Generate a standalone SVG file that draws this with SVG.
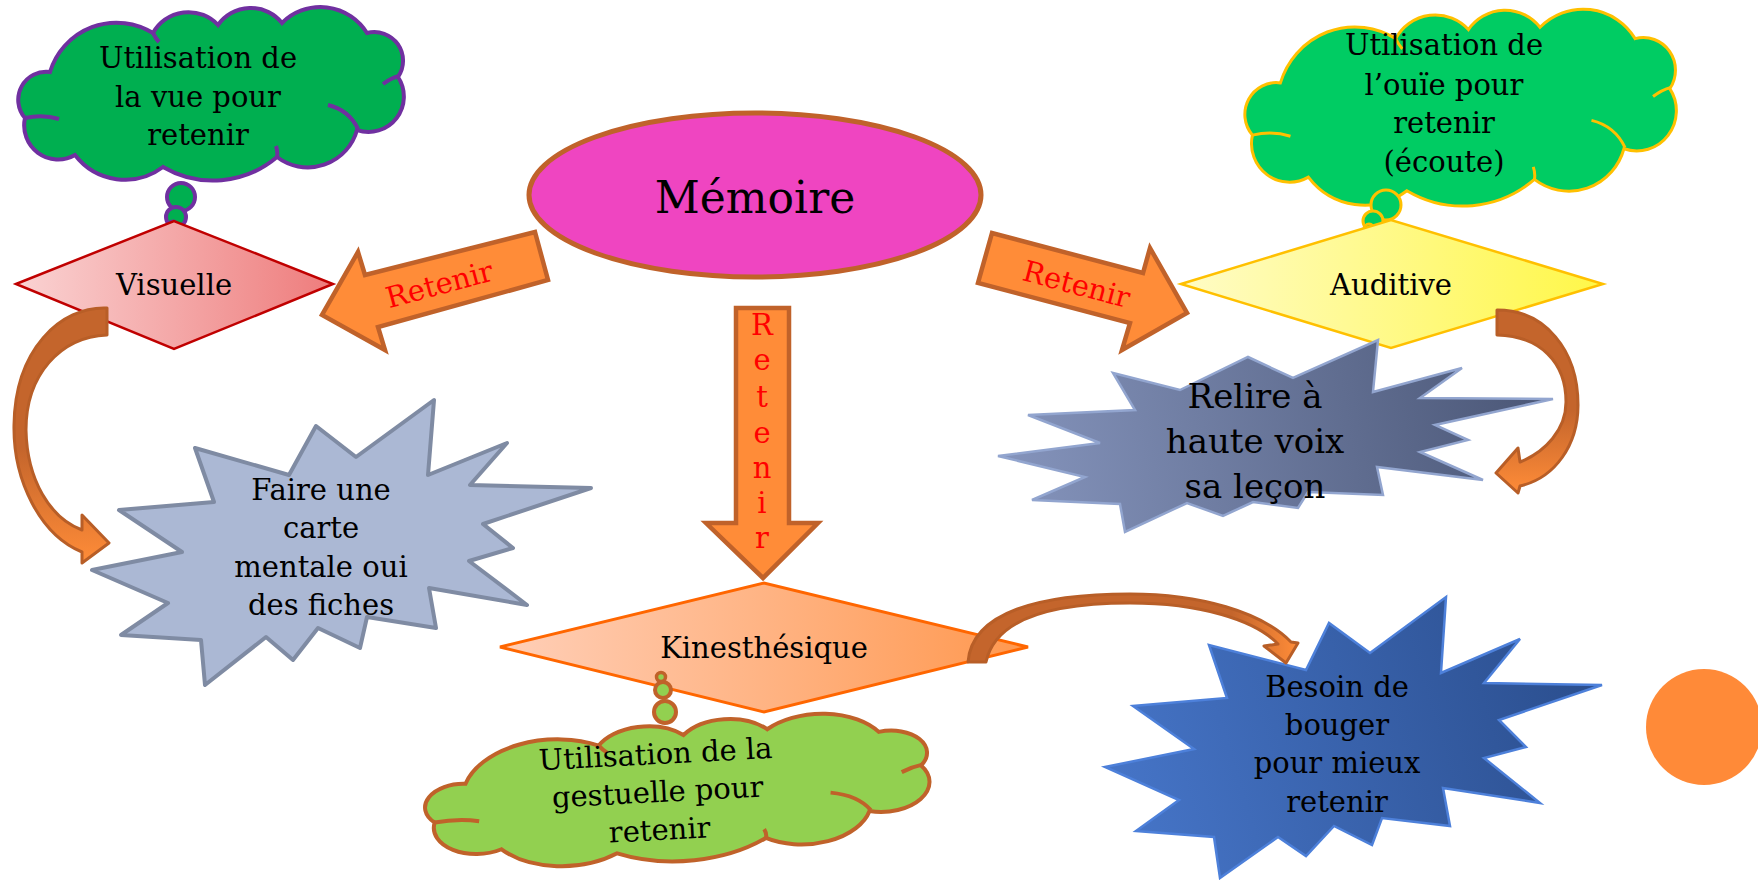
<svg xmlns="http://www.w3.org/2000/svg" xmlns:xlink="http://www.w3.org/1999/xlink" width="1758" height="880" viewBox="0 0 1758 880">
<style>
.t{font-family:"DejaVu Serif","Liberation Serif",serif;font-size:29px;fill:#000;text-anchor:middle}
.ret{font-family:"DejaVu Serif","Liberation Serif",serif;font-size:29px;fill:#FF0000;text-anchor:middle}
.blk{fill:#FF8C38;stroke:#C0622A;stroke-width:4.5;stroke-linejoin:miter}
.curve{stroke:#B85E27;stroke-width:3;stroke-linejoin:round}
.ns{vector-effect:non-scaling-stroke}
</style>
<defs>
<linearGradient id="gVis" x1="0" y1="0" x2="1" y2="0"><stop offset="0" stop-color="#FAD3D3"/><stop offset="1" stop-color="#EE7C7C"/></linearGradient>
<linearGradient id="gAud" x1="0" y1="0" x2="1" y2="0"><stop offset="0" stop-color="#FFFCC6"/><stop offset="1" stop-color="#FFF748"/></linearGradient>
<linearGradient id="gKin" x1="0" y1="0" x2="1" y2="0"><stop offset="0" stop-color="#FFCFB8"/><stop offset="1" stop-color="#FF984F"/></linearGradient>
<linearGradient id="gRel" gradientUnits="userSpaceOnUse" x1="1000" y1="470" x2="1550" y2="380"><stop offset="0" stop-color="#8594BC"/><stop offset="1" stop-color="#4A5676"/></linearGradient>
<linearGradient id="gBes" gradientUnits="userSpaceOnUse" x1="1110" y1="800" x2="1600" y2="650"><stop offset="0" stop-color="#4675C8"/><stop offset="1" stop-color="#2A4D8C"/></linearGradient>
<linearGradient id="gCurveV" x1="0" y1="0" x2="0" y2="1"><stop offset="0" stop-color="#C4652C"/><stop offset="0.55" stop-color="#C4652C"/><stop offset="1" stop-color="#FF8C38"/></linearGradient>
<linearGradient id="gCurveH" x1="0" y1="0" x2="1" y2="0"><stop offset="0" stop-color="#C4652C"/><stop offset="0.8" stop-color="#C4652C"/><stop offset="1" stop-color="#FF8C38"/></linearGradient>
<path id="cloudShape" class="ns" d="M37,66 A69.5,69.5 0 0 1 140,27 A40.5,40.5 0 0 1 205,19 A40,40 0 0 1 269,17 A54.5,54.5 0 0 1 354,27 A28.7,28.7 0 0 1 385,71 A35.4,35.4 0 0 1 344,124 A51,51 0 0 1 264,151 A99,99 0 0 1 150,161 A63,63 0 0 1 62,149 A34,34 0 0 1 12,112 A28,28 0 0 1 37,66 Z"/>
<path id="cloudInner" class="ns" fill="none" d="M12,112 Q30,108 46,113 M315,99 Q336,104 345,123 M370,78 Q378,72 386,70 M264,151 Q265,146 263,140 M140,27 Q143,33 146,36"/>
</defs>

<g id="connectors">
<g id="arrow-left-retenir">
<path class="blk" d="M535,232 L548,280 L378,327 L385,350 L322,315 L358,252 L365,275 Z"/>
<text class="ret" transform="translate(442,294) rotate(-15)">Retenir</text>
</g>
<g id="arrow-right-retenir">
<path class="blk" d="M992,233 L978,283 L1130,323 L1122,350 L1187,313 L1150,248 L1143,273 Z"/>
<text class="ret" transform="translate(1074,294) rotate(15)">Retenir</text>
</g>
<g id="arrow-down-retenir">
<path class="blk" d="M736,308 L789,308 L789,523 L818,523 L763,578 L706,523 L736,523 Z"/>
<text class="ret" x="762" y="335">R</text>
<text class="ret" x="762" y="370">e</text>
<text class="ret" x="762" y="407">t</text>
<text class="ret" x="762" y="443">e</text>
<text class="ret" x="762" y="478">n</text>
<text class="ret" x="762" y="513">i</text>
<text class="ret" x="762" y="548">r</text>
</g>
</g>

<g id="memoire">
<ellipse cx="755" cy="195" rx="226" ry="82" fill="#EF45C1" stroke="#C0622A" stroke-width="5"/>
<text class="t" x="755" y="213" style="font-size:44px">Mémoire</text>
</g>

<g id="cloud-vue">
<use xlink:href="#cloudShape" transform="translate(13,6)" fill="#00AF50" stroke="#7030A0" stroke-width="4"/>
<use xlink:href="#cloudInner" transform="translate(13,6)" stroke="#7030A0" stroke-width="4"/>
<circle cx="181" cy="197" r="14" fill="#00AF50" stroke="#7030A0" stroke-width="4"/>
<circle cx="176" cy="217" r="10" fill="#00AF50" stroke="#7030A0" stroke-width="4"/>
<circle cx="173" cy="226" r="5" fill="#7030A0" stroke="#7030A0" stroke-width="3"/>
<text class="t" x="198" y="68">Utilisation de</text>
<text class="t" x="198" y="107">la vue pour</text>
<text class="t" x="198" y="145">retenir</text>
</g>

<g id="visuelle">
<polygon points="16,284 174,221 333,284 174,349" fill="url(#gVis)" stroke="#C00000" stroke-width="2.5"/>
<text class="t" x="174" y="295">Visuelle</text>
</g>

<g id="cloud-ouie">
<use xlink:href="#cloudShape" transform="translate(1239,8) scale(1.119,1.135)" fill="#00CC63" stroke="#FFC000" stroke-width="3"/>
<use xlink:href="#cloudInner" transform="translate(1239,8) scale(1.119,1.135)" stroke="#FFC000" stroke-width="3"/>
<circle cx="1386" cy="205" r="15" fill="#00CC63" stroke="#FFC000" stroke-width="3"/>
<circle cx="1373" cy="221" r="10" fill="#00CC63" stroke="#FFC000" stroke-width="3"/>
<circle cx="1369" cy="229" r="5" fill="#00CC63" stroke="#FFC000" stroke-width="3"/>
<text class="t" x="1444" y="55">Utilisation de</text>
<text class="t" x="1444" y="95">l’ouïe pour</text>
<text class="t" x="1444" y="133">retenir</text>
<text class="t" x="1444" y="172">(écoute)</text>
</g>

<g id="auditive">
<polygon points="1181,284 1391,220 1603,284 1391,348" fill="url(#gAud)" stroke="#FFC000" stroke-width="2.5"/>
<text class="t" x="1391" y="295">Auditive</text>
</g>

<g id="faire-carte">
<polygon points="434,400 428,475 507,443 470,485 591,488 483,524 513,548 469,561 527,605 429,588 436,628 367,617 360,648 318,628 293,660 266,637 205,685 201,640 121,635 168,603 92,570 182,552 119,510 214,502 195,448 289,475 316,426 356,457" fill="#ABB8D4" stroke="#7F8BA3" stroke-width="4" stroke-linejoin="round"/>
<text class="t" x="321" y="500">Faire une</text>
<text class="t" x="321" y="538">carte</text>
<text class="t" x="321" y="577">mentale oui</text>
<text class="t" x="321" y="615">des fiches</text>
</g>

<g id="relire">
<polygon points="1113,373 1180,390 1248,357 1293,378 1378,340 1373,392 1462,368 1420,398 1553,399 1435,425 1468,440 1420,452 1483,480 1377,467 1383,495 1308,492 1298,508 1253,502 1223,516 1187,503 1125,532 1120,504 1032,500 1085,477 998,456 1100,443 1028,415 1135,410" fill="url(#gRel)" stroke="#92A5CF" stroke-width="2.5"/>
<text class="t" x="1255" y="408" style="font-size:34px">Relire à</text>
<text class="t" x="1255" y="453" style="font-size:34px">haute voix</text>
<text class="t" x="1255" y="498" style="font-size:34px">sa leçon</text>
</g>

<g id="kinesthesique">
<polygon points="500,647 764,583 1028,647 764,712" fill="url(#gKin)" stroke="#FF6600" stroke-width="3"/>
<text class="t" x="764" y="658">Kinesthésique</text>
</g>

<g id="cloud-gestuelle">
<use xlink:href="#cloudShape" transform="translate(677,790) rotate(-2.8) scale(1.31,0.81) translate(-198,-86.5)" fill="#92D050" stroke="#C0622A" stroke-width="4"/>
<use xlink:href="#cloudInner" transform="translate(677,790) rotate(-2.8) scale(1.31,0.81) translate(-198,-86.5)" stroke="#C0622A" stroke-width="4"/>
<circle cx="665" cy="712" r="11" fill="#92D050" stroke="#C0622A" stroke-width="4"/>
<circle cx="663" cy="690" r="8" fill="#92D050" stroke="#C0622A" stroke-width="4"/>
<circle cx="661" cy="677" r="4.5" fill="#92D050" stroke="#C0622A" stroke-width="3.5"/>
<g transform="rotate(-3,658,800)">
<text class="t" x="658" y="764">Utilisation de la</text>
<text class="t" x="658" y="802">gestuelle pour</text>
<text class="t" x="658" y="840">retenir</text>
</g>
</g>

<g id="besoin">
<polygon points="1209,645 1227,698 1133,706 1194,749 1105,767 1179,800 1136,831 1214,837 1220,878 1278,837 1306,856 1334,826 1372,845 1382,818 1450,826 1443,788 1540,803 1484,758 1526,747 1499,720 1602,685 1484,683 1520,639 1441,673 1446,597 1370,653 1329,623 1306,670" fill="url(#gBes)" stroke="#4D80DA" stroke-width="2.5"/>
<text class="t" x="1337" y="697">Besoin de</text>
<text class="t" x="1337" y="735">bouger</text>
<text class="t" x="1337" y="773">pour mieux</text>
<text class="t" x="1337" y="812">retenir</text>
</g>

<g id="orange-dot">
<circle cx="1704" cy="727" r="58" fill="#FF8A38"/>
</g>

<g id="curved-connectors">
<path class="curve" fill="url(#gCurveV)" d="M107,308 C60,306 15,350 14,425 C13,480 40,535 82,552 L82,563 L109,543 L82,515 L82,530 C50,518 27,480 26,430 C26,375 60,337 107,335 Z"/>
<path class="curve" fill="url(#gCurveV)" d="M1497,310 C1545,310 1578,350 1578,405 C1578,445 1555,478 1520,486 L1518,493 L1496,473 L1518,448 L1520,462 C1545,452 1566,430 1566,402 C1566,362 1540,336 1497,335 Z"/>
<path class="curve" fill="url(#gCurveH)" d="M968,662 C972,612 1040,594 1130,594 C1200,594 1262,612 1291,642 L1298,643 L1286,663 L1264,646 L1278,644 C1255,620 1200,603 1130,603 C1050,603 995,620 986,662 Z"/>
</g>
</svg>
